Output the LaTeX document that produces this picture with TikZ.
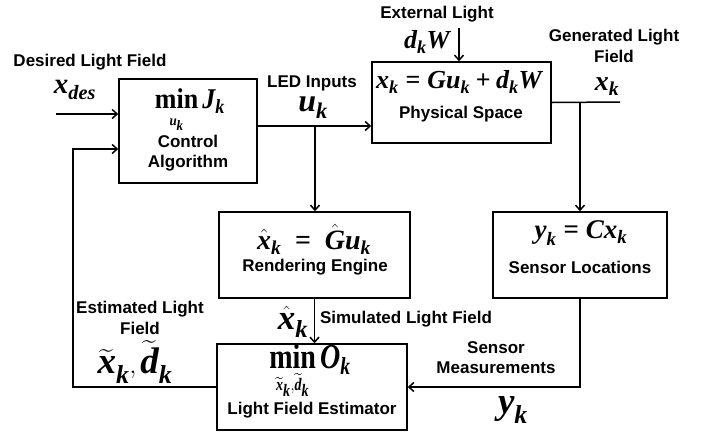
\documentclass[tikz,border=0pt]{standalone}
\usepackage{amsmath}
\usepackage{fontspec}
\setmainfont{Liberation Sans}
\newfontfamily\tms{Liberation Serif}
\usetikzlibrary{arrows.meta}
\newcommand{\mv}[1]{\text{\tms\bfseries\itshape #1}}
\newcommand{\mr}[1]{\text{\tms\bfseries #1}}
\newcommand{\fs}[1]{\fontsize{#1}{#1}\selectfont}

\begin{document}
\begin{tikzpicture}[x=1pt,y=1pt,
  blk/.style={draw,line width=1.5pt,inner sep=0pt},
  lbl/.style={font=\bfseries\fontsize{17}{20.5}\selectfont,align=center,inner sep=0pt},
  eq/.style={inner sep=0pt},
  wire/.style={line width=1.5pt},
  arr/.style={wire,-{Straight Barb[length=5pt,width=9pt]}}]

\useasboundingbox (0,0) rectangle (715,-432);

\node[blk,minimum width=138,minimum height=104] (ctrl) at (188,-131) {};
\node[blk,minimum width=179,minimum height=81] (phys) at (461.5,-102.5) {};
\node[blk,minimum width=191,minimum height=86] (rend) at (314.5,-255) {};
\node[blk,minimum width=174,minimum height=86] (sens) at (580,-255) {};
\node[blk,minimum width=190,minimum height=86] (est) at (312,-387) {};

\node[eq] (ctrleq) at (190,-111) {\scalebox{1}[1.1]{\fs{26}$\mathop{\mr{min}}\limits_{\scriptscriptstyle\mv{u}_{\mv{k}}}\mv{J}_{\mv{k}}$}};
\node[lbl] (ctrltxt) at (188,-153) {Control\\Algorithm};

\node[eq] (physeq) at (459,-82) {\fs{26}$\mv{x}_{\mv{k}} \mathrel{\mr{=}} \mv{Gu}_{\mv{k}} \mathbin{\mr{+}} \mv{d}_{\mv{k}}\mv{W}$};
\node[lbl] (phystxt) at (461,-114) {Physical Space};

\node[eq] (rendeq) at (314,-239) {\fs{28}$\hat{\mv{x}}_{\mv{k}} \;\mathrel{\mr{=}}\; \hat{\mv{G}}\mv{u}_{\mv{k}}$};
\node[lbl] (rendtxt) at (315,-267) {Rendering Engine};

\node[eq] (senseq) at (581,-233) {\fs{27}$\mv{y}_{\mv{k}} \mathrel{\mr{=}} \mv{Cx}_{\mv{k}}$};
\node[lbl] (senstxt) at (580,-267) {Sensor Locations};

\node[eq] (esteq) at (310,-372) {\scalebox{1}[1.25]{\fs{28}$\mathop{\mr{min}}\limits_{\scriptscriptstyle\widetilde{\mv{x}}_{\mv{k}},\widetilde{\mv{d}}_{\mv{k}}}\mv{O}_{\mv{k}}$}};
\node[lbl] (esttxt) at (312,-410) {Light Field Estimator};

\node[lbl] (deslbl) at (90,-62) {Desired Light Field};
\node[eq] (xdes) at (75,-90) {\fs{29}$\mv{x}_{\mv{des}}$};
\node[lbl] (ledlbl) at (312,-83) {LED Inputs};
\node[eq] (uk) at (313,-108) {\fs{32}$\mv{u}_{\mv{k}}$};
\node[lbl] (extlbl) at (437,-14) {External Light};
\node[eq] (dkw) at (427,-42) {\fs{26}$\mv{d}_{\mv{k}}\mv{W}$};
\node[lbl] (genlbl) at (614,-46) {Generated Light\\Field};
\node[eq] (xk) at (607,-87) {\fs{28}$\mv{x}_{\mv{k}}$};
\node[lbl] (estlbl) at (140,-318) {Estimated Light\\Field};
\node[eq] (xdtil) at (135,-362) {\fs{37}$\widetilde{\mv{x}}_{\mv{k}},\widetilde{\mv{d}}_{\mv{k}}$};
\node[eq] (xhat) at (293,-322) {\fs{35}$\hat{\mv{x}}_{\mv{k}}$};
\node[lbl] (simlbl) at (406,-319) {Simulated Light Field};
\node[lbl] (measlbl) at (496,-357.5) {Sensor\\Measurements};
\node[eq] (yk) at (513,-410) {\fs{37}$\mv{y}_{\mv{k}}$};

\coordinate (xin) at (56,-114);
\coordinate (ubr) at (315,-126);
\coordinate (wtop) at (459,-28);
\coordinate (xend) at (620,-102);
\coordinate (xbr) at (580,-102);
\coordinate (fbx) at (73,-149);

\draw[arr] (xin) -- (xin -| ctrl.west);
\draw[arr] (ctrl.east |- ubr) -- (phys.west |- ubr);
\draw[arr] (ubr) -- (ubr |- rend.north);
\draw[arr] (wtop) -- (wtop |- phys.north);
\draw[wire] (phys.east) -- (xend);
\draw[arr] (xbr) -- (sens.north);
\draw[arr] (rend.south) -- (rend.south |- est.north);
\draw[arr] (sens.south) |- (est.east);
\draw[arr] (est.west) -| (fbx) -- (fbx -| ctrl.west);

\end{tikzpicture}
\end{document}
